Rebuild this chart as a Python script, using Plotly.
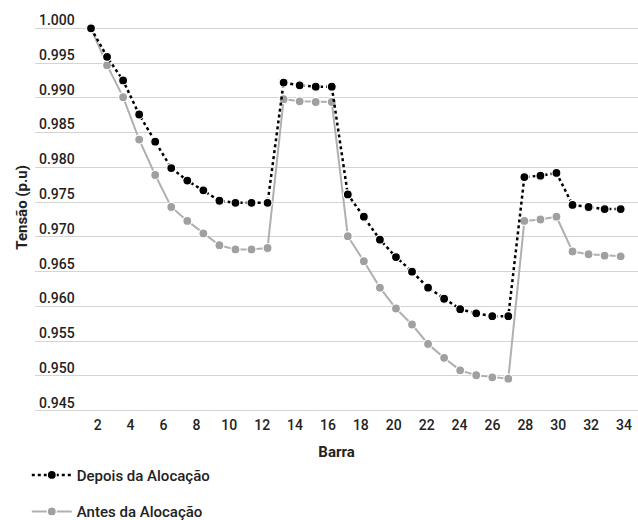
import plotly.graph_objects as go

barra = [1, 2, 3, 4, 5, 6, 7, 8, 9, 10, 11, 12, 13, 14, 15, 16, 17,
         18, 19, 20, 21, 22, 23, 24, 25, 26, 27, 28, 29, 30, 31, 32, 33, 34]

depois = [1.0000, 0.9959, 0.9925, 0.9876, 0.9837, 0.9799, 0.9781, 0.9767,
          0.9752, 0.9749, 0.9749, 0.9749, 0.9922, 0.9918, 0.9916, 0.9916,
          0.9761, 0.9729, 0.9696, 0.9671, 0.9650, 0.9627, 0.9611, 0.9596,
          0.9590, 0.9586, 0.9586, 0.9786, 0.9788, 0.9792, 0.9746, 0.9743,
          0.9740, 0.9740]

antes = [1.0000, 0.9947, 0.9901, 0.9840, 0.9789, 0.9743, 0.9723, 0.9705,
         0.9688, 0.9682, 0.9682, 0.9684, 0.9898, 0.9895, 0.9894, 0.9894,
         0.9701, 0.9665, 0.9627, 0.9597, 0.9574, 0.9546, 0.9526, 0.9508,
         0.9501, 0.9498, 0.9496, 0.9723, 0.9725, 0.9729, 0.9679, 0.9675,
         0.9673, 0.9672]

tick_vals = [2, 4, 6, 8, 10, 12, 14, 16, 18, 20, 22, 24, 26, 28, 30, 32, 34]
y_ticks = [0.945, 0.950, 0.955, 0.960, 0.965, 0.970, 0.975, 0.980, 0.985,
           0.990, 0.995, 1.000]

FONT = "Roboto"
TXT = "#222222"

fig = go.Figure()
fig.add_trace(go.Scatter(
    x=barra, y=antes, name="Antes da Alocação", mode="lines+markers",
    line=dict(color="#b0b0b0", width=2),
    marker=dict(color="#a0a0a0", size=9, line=dict(color="white", width=1.2)),
    legendgroup="b", legendrank=2, cliponaxis=False,
))
fig.add_trace(go.Scatter(
    x=barra, y=depois, name="Depois da Alocação", mode="lines+markers",
    line=dict(color="#000000", width=2.5, dash="dot"),
    marker=dict(color="#000000", size=9, line=dict(color="white", width=1.2)),
    legendgroup="a", legendrank=1, cliponaxis=False,
))

fig.update_layout(
    width=638, height=520,
    margin=dict(l=35, r=0, t=10, b=108, autoexpand=False),
    paper_bgcolor="white", plot_bgcolor="white",
    font=dict(family=FONT, color=TXT, size=14, weight=500),
    showlegend=True,
    legend=dict(
        orientation="v", xref="container", yref="container",
        x=0.042, y=0.1180, xanchor="left", yanchor="top",
        font=dict(family=FONT, size=15, color=TXT, weight=500),
        tracegroupgap=14, bgcolor="rgba(0,0,0,0)",
        itemwidth=40,
    ),
    xaxis=dict(
        range=[-2.49, 35.08], showticklabels=False, showgrid=False,
        zeroline=False, showline=False, ticks="",
    ),
    xaxis2=dict(
        overlaying="x", anchor="y", side="bottom",
        range=[-1.81, 34.85], tickmode="array", tickvals=tick_vals,
        showgrid=False, zeroline=False, showline=False, ticks="",
        ticklabelstandoff=3,
        tickfont=dict(family=FONT, size=14, color=TXT, weight=500),
        title=dict(text="Barra", standoff=14,
                   font=dict(family=FONT, size=15, color=TXT, weight=700)),
    ),
    yaxis=dict(
        range=[0.944813, 1.002632], tickmode="array", tickvals=y_ticks,
        tickformat=".3f", showgrid=True, gridcolor="#d4d4d4", gridwidth=1.2,
        zeroline=False, showline=False, ticks="",
        ticklabelposition="inside", ticklabelshift=-8, ticklabelstandoff=1,
        tickfont=dict(family=FONT, size=14, color=TXT, weight=500),
    ),
    annotations=[dict(
        text="Tensão (p.u)", textangle=-90, xref="paper", yref="paper",
        x=-0.022, y=(412 - 207) / 402, xanchor="center", yanchor="middle",
        showarrow=False,
        font=dict(family=FONT, size=15, color=TXT, weight=700),
    )],
)

# invisible anchor so that the secondary tick axis is rendered
fig.add_trace(go.Scatter(x=[tick_vals[0]], y=[y_ticks[-1]], xaxis="x2",
                         mode="markers", marker=dict(opacity=0),
                         showlegend=False, hoverinfo="skip"))

fig.write_html("out.html",
               config={"displayModeBar": False},
               post_script="document.body.style.margin='0';"
                           "document.body.style.overflow='hidden';")
